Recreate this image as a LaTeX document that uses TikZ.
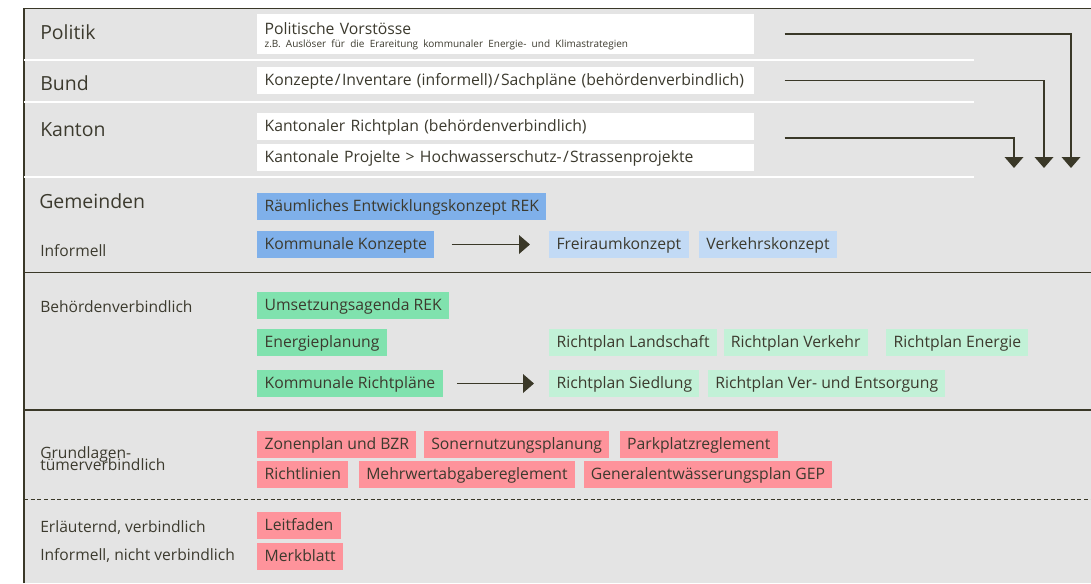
\documentclass[tikz,border=0pt]{standalone}
\usepackage{fontspec}
\setmainfont{Open Sans}
\usepackage{xcolor}
\usepackage{tikz}
\usetikzlibrary{arrows.meta}
\usetikzlibrary{positioning}

\definecolor{grau}{HTML}{E4E4E4}
\definecolor{tinte}{HTML}{3C3A2E}
\definecolor{linie}{HTML}{3A3828}
\definecolor{blau}{HTML}{7FB0EA}
\definecolor{hellblau}{HTML}{C2DAF5}
\definecolor{gruen}{HTML}{80E2AE}
\definecolor{hellgruen}{HTML}{C2F1D7}
\definecolor{rot}{HTML}{FE939B}

\begin{document}
\begin{tikzpicture}[x=0.75pt, y=-0.75pt,
    feld/.style={anchor=west, minimum height=20.25pt, inner xsep=5.5pt, inner ysep=0pt,
        text height=9.6pt, text depth=1.4pt, text=tinte, font=\fontsize{11.8}{14}\selectfont},
    weissfeld/.style={feld, fill=white, text width=361.75pt, align=left},
    blaufeld/.style={feld, fill=blau},
    hellblaufeld/.style={feld, fill=hellblau},
    gruenfeld/.style={feld, fill=gruen},
    hellgruenfeld/.style={feld, fill=hellgruen},
    rotfeld/.style={feld, fill=rot},
    ebene/.style={anchor=base west, inner sep=0pt, text=tinte, font=\fontsize{14.6}{17}\selectfont},
    stufe/.style={anchor=base west, inner sep=0pt, text=tinte, font=\fontsize{11.7}{14}\selectfont},
    pfeil/.style={-{Triangle[width=14pt,length=8.25pt]}, line width=1.1pt, draw=linie}]

    % Rahmen
    \useasboundingbox (0,0) rectangle (1091,583);
    \fill[grau] (24,8.5) rectangle (1091,583);
    \draw[linie, line width=1.1pt] (24,583) -- (24,8.5) -- (1091,8.5);

    % Trennlinien
    \draw[white, line width=1.1pt] (24,60) -- (974,60);
    \draw[white, line width=1.1pt] (24,102) -- (974,102);
    \draw[white, line width=1.1pt] (24,177) -- (974,177);
    \draw[linie, line width=1.1pt] (24,272.5) -- (1091,272.5);
    \draw[linie, line width=1.1pt] (24,410) -- (1091,410);
    \draw[linie, line width=0.75pt, dash pattern=on 3pt off 2pt] (24,499) -- (1091,499);

    % Ebenen
    \node[ebene] (lpol) at (40,39) {Politik};
    \node[ebene] (lbund) at (40,90.7) {Bund};
    \node[ebene] (lkan) at (40,136) {Kanton};
    \node[ebene] (lgem) at (39,208) {Gemeinden};
    \node[stufe] (linf) at (40,256) {Informell};
    \node[stufe] (lbeh) at (40,312) {Behördenverbindlich};
    \node[stufe, align=left] (lgru) at (40,470) {Grundlagen-\\[-5pt]tümerverbindlich};
    \node[stufe] (lerl) at (40,532) {Erläuternd, verbindlich};
    \node[stufe] (lnv) at (40,560) {Informell, nicht verbindlich};

    % Politik, Bund, Kanton
    \node[weissfeld, minimum height=30pt, text height={}, text depth={}] (pol) at (257,34)
        {\rule{0pt}{12.5pt}Politische Vorstösse\\[-4.5pt]{\fontsize{7.5}{9}\selectfont z.B. Auslöser für die Erareitung kommunaler Energie- und Klimastrategien}};
    \node[weissfeld] (bund) at (257,80.5) {Konzepte\kern1pt/\kern1pt Inventare (informell)\kern1pt/\kern1pt Sachpläne (behördenverbindlich)};
    \node[weissfeld] (kr1) at (257,126.5) {Kantonaler Richtplan (behördenverbindlich)};
    \node[weissfeld] (kr2) at (257,157.5) {Kantonale Projelte > Hochwasserschutz-\kern1pt/\kern1pt Strassenprojekte};

    \coordinate (z1) at (1071,168);
    \coordinate (z2) at (1044,168);
    \coordinate (z3) at (1014,168);
    \draw[pfeil, shorten <=22.5pt] (pol.east) -| (z1);
    \draw[pfeil, shorten <=22.5pt] (bund.east) -| (z2);
    \draw[pfeil, shorten <=22.5pt] ([yshift=-8.6pt]kr1.east) -| (z3);

    % Gemeinden informell
    \node[blaufeld] (rek) at (257,206.5) {Räumliches Entwicklungskonzept REK};
    \node[blaufeld] (kk) at (257,244.5) {Kommunale Konzepte};
    \node[hellblaufeld] (fr) at (549,244.5) {Freiraumkonzept};
    \node[hellblaufeld, right=7.5pt of fr] (vk) {Verkehrskonzept};
    \draw[pfeil, shorten <=12.75pt, shorten >=14.25pt] (kk) -- (fr);

    % Behördenverbindlich
    \node[gruenfeld] (ua) at (257,305.5) {Umsetzungsagenda REK};
    \node[gruenfeld] (ep) at (257,342.5) {Energieplanung};
    \node[gruenfeld] (krp) at (257,383.5) {Kommunale Richtpläne};
    \node[hellgruenfeld] (rl) at (549,342.5) {Richtplan Landschaft};
    \node[hellgruenfeld, right=4.5pt of rl] (rv) {Richtplan Verkehr};
    \node[hellgruenfeld, right=13.5pt of rv] (re) {Richtplan Energie};
    \node[hellgruenfeld] (rs) at (549,383.5) {Richtplan Siedlung};
    \node[hellgruenfeld, right=6pt of rs] (rve) {Richtplan Ver- und Entsorgung};
    \draw[pfeil, shorten <=10.5pt, shorten >=11.25pt] (krp) -- (rs);

    % Grundeigentümerverbindlich
    \node[rotfeld] (zp) at (257,444.5) {Zonenplan und BZR};
    \node[rotfeld, right=5.25pt of zp] (sn) {Sonernutzungsplanung};
    \node[rotfeld, right=7.5pt of sn] (pp) {Parkplatzreglement};
    \node[rotfeld] (ri) at (257,474.5) {Richtlinien};
    \node[rotfeld, right=7.5pt of ri] (mw) {Mehrwertabgabereglement};
    \node[rotfeld, right=6pt of mw] (ge) {Generalentwässerungsplan GEP};

    % Erläuternd / informell
    \node[rotfeld] (lf) at (257,525.5) {Leitfaden};
    \node[rotfeld] (mb) at (257,556.5) {Merkblatt};
\end{tikzpicture}
\end{document}
